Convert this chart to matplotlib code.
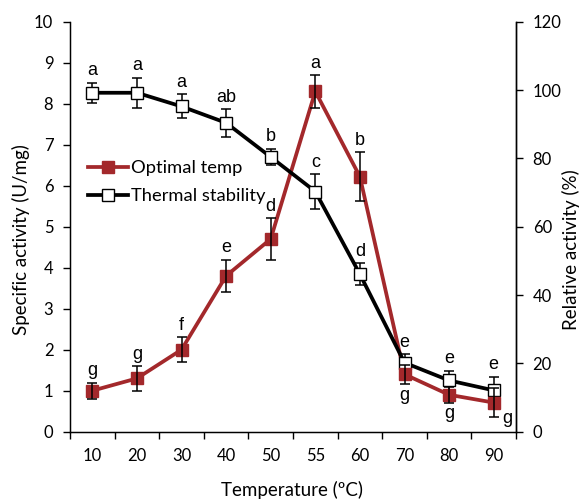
import matplotlib
matplotlib.use("Agg")
import matplotlib.pyplot as plt
from matplotlib.lines import Line2D

temps = ["10", "20", "30", "40", "50", "55", "60", "70", "80", "90"]
# Optimal temp: specific activity (U/mg)
opt_val = [1.0, 1.3, 2.0, 3.8, 4.7, 8.3, 6.22, 1.40, 0.90, 0.71]
opt_err = [0.2, 0.3, 0.3, 0.4, 0.5, 0.4, 0.6, 0.23, 0.19, 0.36]
opt_let = ["g", "g", "f", "e", "d", "a", "b", "g", "g", "g"]
# Thermal stability: relative activity (%)
ts_val = [99.2, 99.2, 95.2, 90.4, 80.4, 70.3, 46.1, 20.2, 15.0, 12.1]
ts_err = [2.9, 4.4, 3.5, 4.0, 2.4, 5.0, 3.2, 2.4, 2.8, 4.0]
ts_let = ["a", "a", "a", "ab", "b", "c", "d", "e", "e", "e"]

RED = "#a3282b"
LEFT_MAX, RIGHT_MAX = 10, 120
k = LEFT_MAX / RIGHT_MAX  # convert % to left-axis units

W, H = 584, 501
fig = plt.figure(figsize=(W / 100, H / 100), dpi=100)
ax = fig.add_axes([70 / W, (H - 431.7) / H, 446 / W, 410 / H])
x = list(range(len(temps)))
ts_left = [v * k for v in ts_val]
ts_err_left = [e * k for e in ts_err]

LW = 2.7
ax.plot(x, opt_val, color=RED, lw=LW, zorder=2)
ax.plot(x, ts_left, color="black", lw=LW, zorder=3)
eb = dict(fmt="none", ecolor="black", elinewidth=1.1, capsize=3.6, capthick=1.1)
ax.errorbar(x, ts_left, yerr=ts_err_left, zorder=4, **eb)
ax.plot(x, ts_left, ls="none", marker="s", ms=9, mfc="white", mec="black", mew=1, zorder=5)
ax.plot(x, opt_val, ls="none", marker="s", ms=9, mfc=RED, mec=RED, zorder=6)
ax.errorbar(x, opt_val, yerr=opt_err, zorder=7, **eb)

lfont = dict(family="Liberation Sans", fontsize=13)
for i in range(len(temps)):
    ax.annotate(ts_let[i], (x[i], ts_left[i] + ts_err_left[i]), xytext=(0, 2.5), textcoords="offset points",
                ha="center", va="bottom", zorder=8, **lfont)
    if i < 7:
        ax.annotate(opt_let[i], (x[i], opt_val[i] + opt_err[i]), xytext=(0, 2.5), textcoords="offset points",
                    ha="center", va="bottom", zorder=8, **lfont)
    elif i < 9:
        ax.annotate(opt_let[i], (x[i], opt_val[i] - opt_err[i]), xytext=(0, -2), textcoords="offset points",
                    ha="center", va="top", zorder=8, **lfont)
    else:
        ax.annotate(opt_let[i], (x[i], opt_val[i] - opt_err[i]), xytext=(10, -1), textcoords="offset points",
                    ha="center", va="center", zorder=8, **lfont)

tfont = "Lato"
TS = 12
ax.set_xlim(-0.5, len(temps) - 0.5)
ax.set_ylim(0, LEFT_MAX)
ax.set_yticks(range(0, 11))
ax.set_xticks(x)
ax.set_xticklabels(temps, fontfamily=tfont, fontsize=TS)
ax.set_xticks([i - 0.5 for i in range(len(temps) + 1)], minor=True)
ax.tick_params(axis="x", which="major", length=0, pad=12)
ax.tick_params(axis="x", which="minor", length=5, direction="out", width=1)
ax.tick_params(axis="y", length=5, direction="out", width=1, labelsize=TS, pad=7)
for lab in ax.get_yticklabels():
    lab.set_fontfamily(tfont)
ax.spines["top"].set_visible(False)
for s in ["left", "bottom", "right"]:
    ax.spines[s].set_linewidth(1)

ax2 = ax.twinx()
ax2.set_ylim(0, RIGHT_MAX)
ax2.set_yticks(range(0, 121, 20))
ax2.tick_params(axis="y", length=5, direction="out", width=1, labelsize=TS, pad=7)
for lab in ax2.get_yticklabels():
    lab.set_fontfamily(tfont)
ax2.spines["top"].set_visible(False)
ax2.spines["right"].set_linewidth(1)

ax.set_ylabel("Specific activity (U/mg)", fontfamily=tfont, fontsize=13.5, va="center")
ax.yaxis.set_label_coords((21 - 70) / 446, (431.7 - 240) / 410)
ax2.set_ylabel("Relative activity (%)", fontfamily=tfont, fontsize=13.5, va="center", rotation=90)
ax2.yaxis.set_label_coords((571 - 70) / 446, (431.7 - 250) / 410)
ax.set_xlabel("Temperature (ºC)", fontfamily=tfont, fontsize=13.5, va="center")
ax.xaxis.set_label_coords((292 - 70) / 446, (431.7 - 490) / 410)

handles = [
    Line2D([], [], color=RED, lw=LW, marker="s", ms=8, mfc=RED, mec=RED),
    Line2D([], [], color="black", lw=LW, marker="s", ms=8, mfc="white", mec="black", mew=1),
]
leg = ax2.legend(handles, ["Optimal temp", "Thermal stability"], loc="upper left",
                 bbox_to_anchor=((88 - 70) / 446, (431.7 - 160) / 410), frameon=False,
                 handlelength=2.2, handletextpad=0.12, labelspacing=0.68, borderaxespad=0, borderpad=0,
                 prop=dict(family=tfont, size=13.2))
leg.set_zorder(10)

fig.savefig("out.png", dpi=100)
